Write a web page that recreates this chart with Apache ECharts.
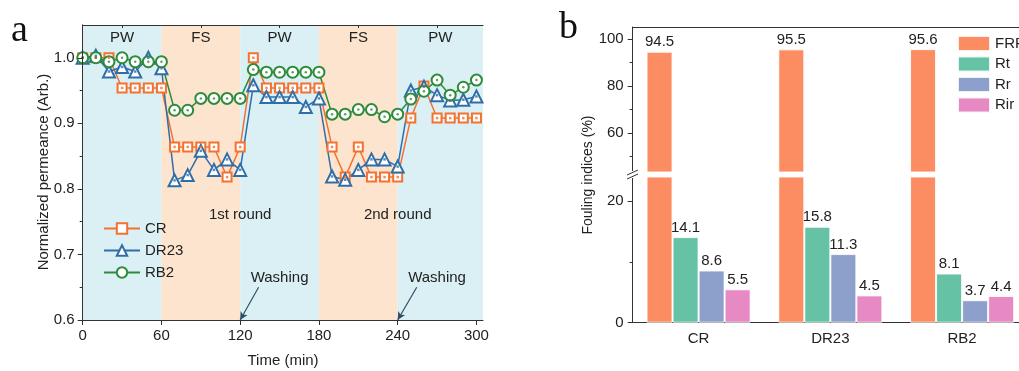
<!DOCTYPE html>
<html>
<head>
<meta charset="utf-8">
<script src="https://cdn.jsdelivr.net/npm/echarts@6/dist/echarts.min.js"></script>
<style>
  html, body {margin: 0; padding: 0; overflow: hidden; background: #fff;}
  #main {width: 1040px; height: 371px;}
</style>
</head>
<body>
<div id="main"></div>
<script>
// panel a: permeance vs time
const time = [0, 10, 20, 30, 40, 50, 60, 70, 80, 90, 100, 110, 120, 130, 140, 150, 160, 170, 180,
  190, 200, 210, 220, 230, 240, 250, 260, 270, 280, 290, 300];
const cr = [1.0, 1.0, 1.0, 0.954, 0.954, 0.954, 0.954, 0.864, 0.864, 0.864, 0.864, 0.818, 0.864,
  1.0, 0.954, 0.954, 0.954, 0.954, 0.954, 0.864, 0.818, 0.864, 0.818, 0.818, 0.818,
  0.908, 0.957, 0.908, 0.908, 0.908, 0.908];
const dr23 = [1.0, 1.003, 0.979, 0.986, 0.979, 1.0, 0.984, 0.813, 0.821, 0.858, 0.829, 0.845, 0.829,
  0.958, 0.94, 0.94, 0.94, 0.925, 0.938, 0.819, 0.814, 0.829, 0.845, 0.845, 0.834,
  0.95, 0.956, 0.943, 0.935, 0.936, 0.941];
const rb2 = [1.0, 1.0, 0.994, 1.0, 0.994, 0.994, 0.994, 0.92, 0.92, 0.938, 0.938, 0.938, 0.938,
  0.982, 0.978, 0.978, 0.978, 0.978, 0.978, 0.914, 0.914, 0.921, 0.921, 0.91, 0.914,
  0.937, 0.949, 0.966, 0.943, 0.955, 0.966];
const phaseNames = ['PW', 'FS', 'PW', 'FS', 'PW'];
const phaseStart = [0, 60, 120, 180, 240];
const phaseEnd = [60, 120, 180, 240, 305];
const xTicksA = [0, 60, 120, 180, 240, 300];
const xMinorA = [30, 90, 150, 210, 270];
const yTicksA = [0.6, 0.7, 0.8, 0.9, 1.0];
const yMinorA = [0.65, 0.75, 0.85, 0.95];

// panel b: fouling indices
const categories = ['CR', 'DR23', 'RB2'];
const frr = [94.5, 95.5, 95.6];
const rt = [14.1, 15.8, 8.1];
const rr = [8.6, 11.3, 3.7];
const rir = [5.5, 4.5, 4.4];
const yTicksUp = [60, 80, 100];
const yMinorUp = [50, 70, 90];
const yTicksLow = [0, 20];
const yMinorLow = [10];

const font = 'Arial, "Liberation Sans", sans-serif';
const ink = '#222';
const axisCol = '#333';
const colA = {CR: '#F4712F', DR23: '#2F6EA8', RB2: '#2E8B3A'};
const colB = {FRR: '#FC8D62', Rt: '#66C2A5', Rr: '#8DA0CB', Rir: '#E78AC3'};

const chart = echarts.init(document.getElementById('main'));

const zip = ys => time.map((t, i) => [t, ys[i]]);

function lineSeries(name, ys, symbol, size) {
  return {
    name, type: 'line', xAxisIndex: 0, yAxisIndex: 0, z: 3,
    data: zip(ys),
    symbol, symbolSize: size,
    color: colA[name],
    lineStyle: {width: 1.5, color: colA[name]},
    itemStyle: {color: colA[name], borderWidth: 1.5},
    emphasis: {disabled: true}
  };
}
function dotSeries(name, ys, symbol) {
  return {
    name: name + '-dot', type: 'scatter', xAxisIndex: 0, yAxisIndex: 0, z: 4, silent: true,
    data: zip(ys), symbol, symbolSize: 2.5,
    itemStyle: {color: colA[name]}
  };
}

const bar = (name, data, xi, yi, showLabel) => ({
  name, type: 'bar', xAxisIndex: xi, yAxisIndex: yi,
  data, barGap: '0%', barCategoryGap: '21%',
  itemStyle: {color: colB[name], borderColor: 'rgba(255,255,255,0.85)', borderWidth: 1},
  label: {show: showLabel, position: 'top', distance: 2, color: ink, fontSize: 15, fontFamily: font},
  emphasis: {disabled: true}
});

const minorY = (grid, min, max, vals) => ({
  type: 'value', gridIndex: grid, position: 'left', min, max,
  axisLine: {show: false}, splitLine: {show: false}, axisLabel: {show: false},
  axisTick: {show: true, length: 3, customValues: vals, lineStyle: {color: axisCol}}
});

chart.setOption({
  animation: false,
  textStyle: {fontFamily: font, color: ink},
  grid: [
    {left: 82.7, top: 25, width: 400.3, height: 295},
    {left: 632.7, top: 27, width: 395.3, height: 145},
    {left: 632.7, top: 177, width: 395.3, height: 145.7}
  ],
  legend: [
    {
      data: ['CR', 'DR23', 'RB2'], orient: 'vertical', left: 98, top: 216,
      itemWidth: 36, itemHeight: 13, itemGap: 7,
      textStyle: {fontSize: 15, color: ink, fontFamily: font}
    },
    {
      data: ['FRR', 'Rt', 'Rr', 'Rir'], orient: 'vertical', left: 952, top: 30,
      icon: 'rect', itemWidth: 32, itemHeight: 15, itemGap: 3.5,
      textStyle: {fontSize: 15, color: ink, fontFamily: font}
    }
  ],
  xAxis: [
    {
      type: 'value', gridIndex: 0, min: 0, max: 305, z: 10,
      axisLine: {lineStyle: {color: axisCol}}, splitLine: {show: false},
      axisTick: {length: 5, customValues: xTicksA, lineStyle: {color: axisCol}},
      axisLabel: {customValues: xTicksA, fontSize: 15, color: ink, margin: 8}
    },
    {
      type: 'value', gridIndex: 0, min: 0, max: 305, z: 10,
      axisLine: {show: false}, splitLine: {show: false}, axisLabel: {show: false},
      axisTick: {inside: true, length: 3, customValues: xMinorA, lineStyle: {color: axisCol}}
    },
    {
      type: 'value', gridIndex: 0, min: 0, max: 305, position: 'top', z: 10,
      axisLine: {lineStyle: {color: axisCol}}, splitLine: {show: false},
      axisTick: {show: false}, axisLabel: {show: false}
    },
    {
      type: 'category', gridIndex: 1, data: categories, position: 'top',
      axisLine: {lineStyle: {color: axisCol}}, axisTick: {show: false}, axisLabel: {show: false}
    },
    {
      type: 'category', gridIndex: 2, data: categories,
      axisLine: {lineStyle: {color: axisCol}},
      axisTick: {alignWithLabel: true, length: 5, lineStyle: {color: axisCol}},
      axisLabel: {fontSize: 15, color: ink, margin: 9}
    },
    {
      type: 'category', gridIndex: 2, data: categories,
      axisLine: {show: false}, axisLabel: {show: false},
      axisTick: {inside: true, length: 3, lineStyle: {color: axisCol}}
    }
  ],
  yAxis: [
    {
      type: 'value', gridIndex: 0, min: 0.6, max: 1.05, z: 10,
      axisLine: {show: true, lineStyle: {color: axisCol}}, splitLine: {show: false},
      axisTick: {show: true, length: 5, customValues: yTicksA, lineStyle: {color: axisCol}},
      axisLabel: {customValues: yTicksA, fontSize: 15, color: ink, margin: 8,
        formatter: v => v.toFixed(1)}
    },
    minorY(0, 0.6, 1.05, yMinorA),
    {
      type: 'value', gridIndex: 0, min: 0.6, max: 1.05, position: 'right', z: 10,
      axisLine: {show: true, lineStyle: {color: axisCol}}, splitLine: {show: false},
      axisTick: {show: false}, axisLabel: {show: false}
    },
    {
      type: 'value', gridIndex: 1, min: 43.4, max: 105,
      axisLine: {show: true, lineStyle: {color: axisCol}}, splitLine: {show: false},
      axisTick: {show: true, length: 5, customValues: yTicksUp, lineStyle: {color: axisCol}},
      axisLabel: {customValues: yTicksUp, fontSize: 15, color: ink, margin: 9}
    },
    minorY(1, 43.4, 105, yMinorUp),
    {
      type: 'value', gridIndex: 2, min: 0, max: 24,
      axisLine: {show: true, lineStyle: {color: axisCol}}, splitLine: {show: false},
      axisTick: {show: true, length: 5, customValues: yTicksLow, lineStyle: {color: axisCol}},
      axisLabel: {customValues: yTicksLow, fontSize: 15, color: ink, margin: 9}
    },
    minorY(2, 0, 24, yMinorLow)
  ],
  series: [
    // shaded phases, arrows and notes for panel a
    {
      name: 'bg', type: 'line', xAxisIndex: 0, yAxisIndex: 0, z: 1, data: [], silent: true,
      markArea: {
        silent: true,
        data: phaseNames.map((n, i) => [
          {name: n, xAxis: phaseStart[i], itemStyle: {color: n === 'PW' ? '#DAF0F4' : '#FDE4CF'}},
          {xAxis: phaseEnd[i]}
        ]),
        label: {show: true, position: 'insideTop', distance: 5, fontSize: 15, color: ink, fontFamily: font}
      },
      markLine: {
        silent: true, symbol: ['none', 'arrow'], symbolSize: [6, 8],
        lineStyle: {color: '#2F4F63', width: 1.2, type: 'solid'},
        label: {show: false},
        data: [
          [{coord: [134, 0.65]}, {coord: [120, 0.6]}],
          [{coord: [254.5, 0.65]}, {coord: [240, 0.6]}]
        ]
      },
      markPoint: {
        silent: true, symbol: 'circle', symbolSize: 0,
        label: {show: true, position: 'inside', formatter: '{b}', fontSize: 15, color: ink, fontFamily: font},
        data: [
          {name: '1st round', coord: [120, 0.76]},
          {name: '2nd round', coord: [240, 0.76]},
          {name: 'Washing', coord: [150, 0.665]},
          {name: 'Washing', coord: [270, 0.665]}
        ]
      }
    },
    lineSeries('CR', cr, 'emptyRect', 9),
    lineSeries('DR23', dr23, 'emptyTriangle', 12),
    lineSeries('RB2', rb2, 'emptyCircle', 11),
    dotSeries('CR', cr, 'rect'),
    dotSeries('DR23', dr23, 'rect'),
    dotSeries('RB2', rb2, 'circle'),
    // panel b upper part
    bar('FRR', frr, 3, 3, true),
    bar('Rt', rt, 3, 3, false),
    bar('Rr', rr, 3, 3, false),
    bar('Rir', rir, 3, 3, false),
    // panel b lower part
    bar('FRR', frr, 4, 5, false),
    bar('Rt', rt, 4, 5, true),
    bar('Rr', rr, 4, 5, true),
    bar('Rir', rir, 4, 5, true)
  ],
  graphic: [
    {type: 'text', left: 11, top: 12, style: {text: 'a', fontSize: 38, fontFamily: '"Liberation Serif", "Times New Roman", serif', fill: '#111'}},
    {type: 'text', left: 559, top: 9, style: {text: 'b', fontSize: 38, fontFamily: '"Liberation Serif", "Times New Roman", serif', fill: '#111'}},
    {type: 'text', x: 44, y: 172, rotation: Math.PI / 2,
      style: {text: 'Normalized permeance (Arb.)', fontSize: 15, fontFamily: font, fill: ink, align: 'center', verticalAlign: 'middle'}},
    {type: 'text', x: 283, y: 361,
      style: {text: 'Time (min)', fontSize: 15, fontFamily: font, fill: ink, align: 'center', verticalAlign: 'middle'}},
    {type: 'text', x: 588, y: 175, rotation: Math.PI / 2,
      style: {text: 'Fouling indices (%)', fontSize: 14, fontFamily: font, fill: ink, align: 'center', verticalAlign: 'middle'}},
    // axis break marks
    {type: 'rect', shape: {x: 626, y: 171, width: 14, height: 7}, style: {fill: '#fff'}, z: 20},
    {type: 'line', shape: {x1: 627, y1: 175, x2: 638, y2: 170}, style: {stroke: axisCol, lineWidth: 1}, z: 21},
    {type: 'line', shape: {x1: 627, y1: 179, x2: 638, y2: 174}, style: {stroke: axisCol, lineWidth: 1}, z: 21}
  ]
});
</script>
</body>
</html>
